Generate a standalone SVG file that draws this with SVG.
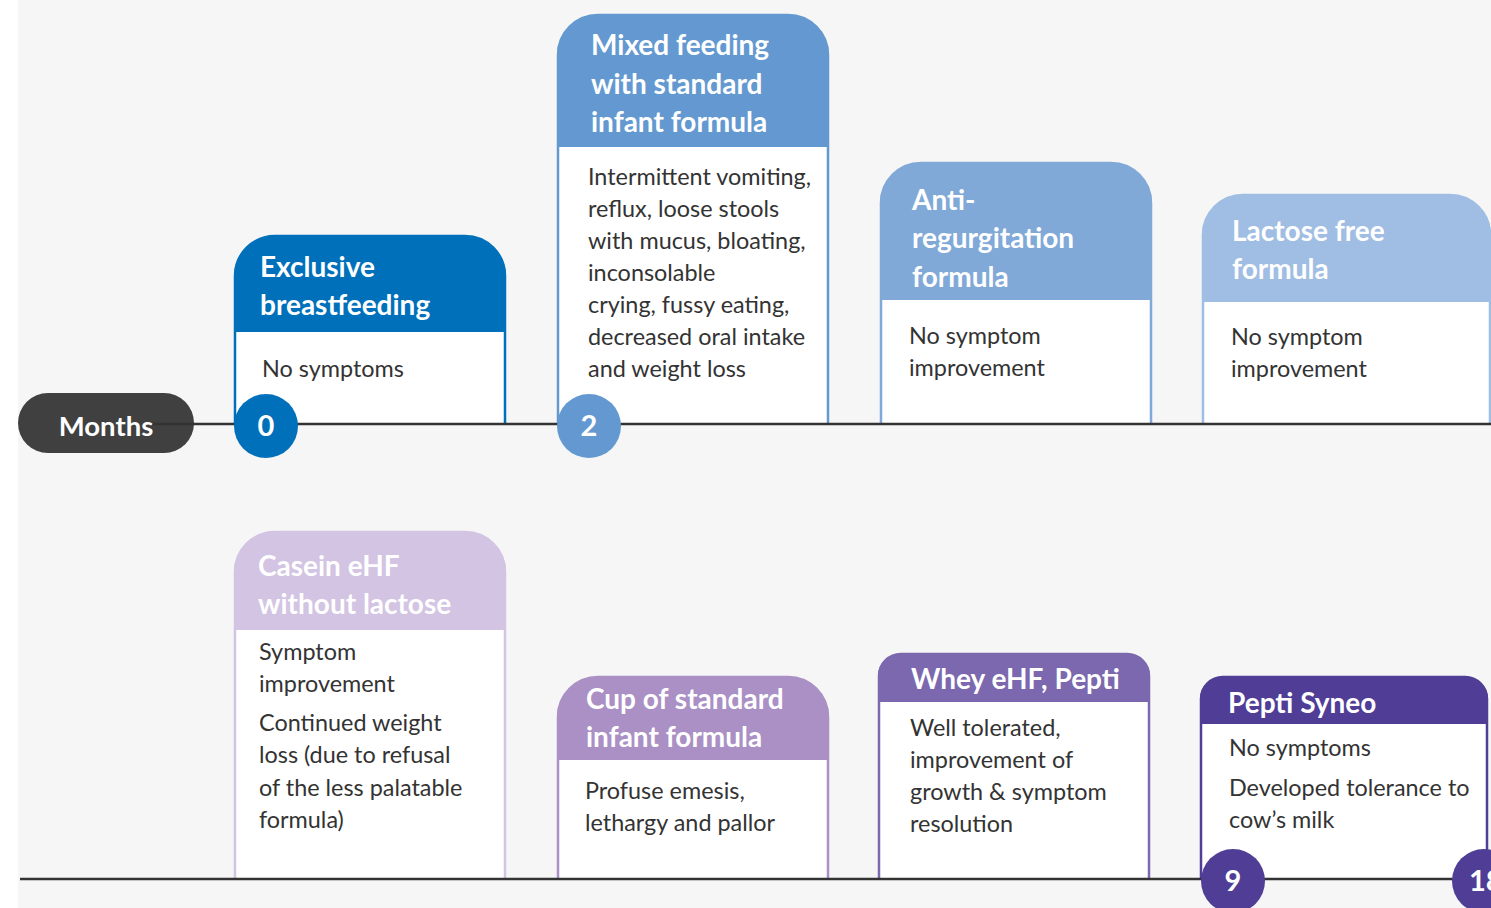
<svg xmlns="http://www.w3.org/2000/svg" width="1491" height="908" viewBox="0 0 1491 908">
<style>
.title{font-family:Lato,"Open Sans",sans-serif;font-weight:bold;font-size:28px;fill:#ffffff}
.body{font-family:Lato,"Open Sans",sans-serif;font-size:23.4px;fill:#333333}
.num{font-family:Lato,"Open Sans",sans-serif;font-weight:bold;font-size:29px;fill:#ffffff}
.card{fill:#ffffff;stroke-width:2.5}
.axis{stroke:#333333;stroke-width:2.5;fill:none}
</style>
<rect x="0" y="0" width="1491" height="908" fill="#ffffff"/>
<rect x="18" y="0" width="1473" height="908" fill="#f6f6f6"/>

<g id="card-exclusive-breastfeeding">
<path class="card" stroke="#0070ba" d="M235,424 V276 A40,40 0 0 1 275,236 H465 A40,40 0 0 1 505,276 V424"/>
<path fill="#0070ba" d="M234,332 V276 A40,40 0 0 1 274,236 H466 A40,40 0 0 1 506,276 V332 Z"/>
<text class="title" x="260" y="277">Exclusive</text>
<text class="title" x="260" y="315">breastfeeding</text>
<text class="body" x="262" y="377">No symptoms</text>
</g>

<g id="card-mixed-feeding">
<path class="card" stroke="#6399d0" d="M558,424 V55 A40,40 0 0 1 598,15 H788 A40,40 0 0 1 828,55 V424"/>
<path fill="#6399d0" d="M557,147 V55 A40,40 0 0 1 597,15 H789 A40,40 0 0 1 829,55 V147 Z"/>
<text class="title" x="591" y="55">Mixed feeding</text>
<text class="title" x="591" y="94">with standard</text>
<text class="title" x="591" y="132">infant formula</text>
<text class="body" x="588" y="185">Intermittent vomiting,</text>
<text class="body" x="588" y="217">reflux, loose stools</text>
<text class="body" x="588" y="249">with mucus, bloating,</text>
<text class="body" x="588" y="281">inconsolable</text>
<text class="body" x="588" y="313">crying, fussy eating,</text>
<text class="body" x="588" y="345">decreased oral intake</text>
<text class="body" x="588" y="377">and weight loss</text>
</g>

<g id="card-anti-regurgitation">
<path class="card" stroke="#80a9d8" d="M881,424 V203 A40,40 0 0 1 921,163 H1111 A40,40 0 0 1 1151,203 V424"/>
<path fill="#80a9d8" d="M880,300 V203 A40,40 0 0 1 920,163 H1112 A40,40 0 0 1 1152,203 V300 Z"/>
<text class="title" x="912" y="210">Anti-</text>
<text class="title" x="912" y="248">regurgitation</text>
<text class="title" x="912" y="287">formula</text>
<text class="body" x="909" y="344">No symptom</text>
<text class="body" x="909" y="376">improvement</text>
</g>

<g id="card-lactose-free">
<path class="card" stroke="#a0bde3" d="M1203,424 V235 A40,40 0 0 1 1243,195 H1450 A40,40 0 0 1 1490,235 V424"/>
<path fill="#a0bde3" d="M1202,302 V235 A40,40 0 0 1 1242,195 H1451 A40,40 0 0 1 1491,235 V302 Z"/>
<text class="title" x="1232" y="241">Lactose free</text>
<text class="title" x="1232" y="279">formula</text>
<text class="body" x="1231" y="345">No symptom</text>
<text class="body" x="1231" y="377">improvement</text>
</g>

<g id="card-casein-ehf">
<path class="card" stroke="#d2c4e2" d="M235,879 V572 A40,40 0 0 1 275,532 H465 A40,40 0 0 1 505,572 V879"/>
<path fill="#d2c4e2" d="M234,630 V572 A40,40 0 0 1 274,532 H466 A40,40 0 0 1 506,572 V630 Z"/>
<text class="title" x="258" y="576">Casein eHF</text>
<text class="title" x="258" y="614">without lactose</text>
<text class="body" x="259" y="660">Symptom</text>
<text class="body" x="259" y="692">improvement</text>
<text class="body" x="259" y="731">Continued weight</text>
<text class="body" x="259" y="763">loss (due to refusal</text>
<text class="body" x="259" y="796">of the less palatable</text>
<text class="body" x="259" y="828">formula)</text>
</g>

<g id="card-cup-standard">
<path class="card" stroke="#aa90c5" d="M558,879 V717 A40,40 0 0 1 598,677 H788 A40,40 0 0 1 828,717 V879"/>
<path fill="#aa90c5" d="M557,760 V717 A40,40 0 0 1 597,677 H789 A40,40 0 0 1 829,717 V760 Z"/>
<text class="title" x="586" y="709">Cup of standard</text>
<text class="title" x="586" y="747">infant formula</text>
<text class="body" x="585" y="799">Profuse emesis,</text>
<text class="body" x="585" y="831">lethargy and pallor</text>
</g>

<g id="card-whey-ehf">
<path class="card" stroke="#7b68ae" d="M879,879 V676 A22,22 0 0 1 901,654 H1127 A22,22 0 0 1 1149,676 V879"/>
<path fill="#7b68ae" d="M878,702 V676 A22,22 0 0 1 900,654 H1128 A22,22 0 0 1 1150,676 V702 Z"/>
<text class="title" x="911" y="689">Whey eHF, Pepti</text>
<text class="body" x="910" y="736">Well tolerated,</text>
<text class="body" x="910" y="768">improvement of</text>
<text class="body" x="910" y="800">growth &amp; symptom</text>
<text class="body" x="910" y="832">resolution</text>
</g>

<g id="card-pepti-syneo">
<path class="card" stroke="#4f3d96" d="M1201,879 V699 A22,22 0 0 1 1223,677 H1465 A22,22 0 0 1 1487,699 V879"/>
<path fill="#4f3d96" d="M1200,724 V699 A22,22 0 0 1 1222,677 H1466 A22,22 0 0 1 1488,699 V724 Z"/>
<text class="title" x="1228" y="713">Pepti Syneo</text>
<text class="body" x="1229" y="756">No symptoms</text>
<text class="body" x="1229" y="796">Developed tolerance to</text>
<text class="body" x="1229" y="828">cow’s milk</text>
</g>

<g id="connectors">
<line class="axis" x1="150" y1="424" x2="1491" y2="424"/>
<line class="axis" x1="20" y1="879" x2="1491" y2="879"/>
</g>

<g id="months-label">
<rect x="18" y="393" width="176" height="60" rx="30" fill="#404040"/>
<line class="axis" x1="150" y1="424" x2="194" y2="424"/>
<text x="106" y="436" text-anchor="middle" font-family="Lato,'Open Sans',sans-serif" font-weight="bold" font-size="27.5" fill="#ffffff">Months</text>
</g>

<g id="marker-0">
<circle cx="266" cy="426" r="32" fill="#0070ba"/>
<text class="num" x="266" y="436" text-anchor="middle">0</text>
</g>
<g id="marker-2">
<circle cx="589" cy="426" r="32" fill="#6399d0"/>
<text class="num" x="589" y="436" text-anchor="middle">2</text>
</g>
<g id="marker-9">
<circle cx="1233" cy="881" r="32" fill="#4f3d96"/>
<text class="num" x="1233" y="891" text-anchor="middle">9</text>
</g>
<g id="marker-18">
<circle cx="1484" cy="881" r="32" fill="#4f3d96"/>
<text class="num" x="1469" y="891">18</text>
</g>
</svg>
